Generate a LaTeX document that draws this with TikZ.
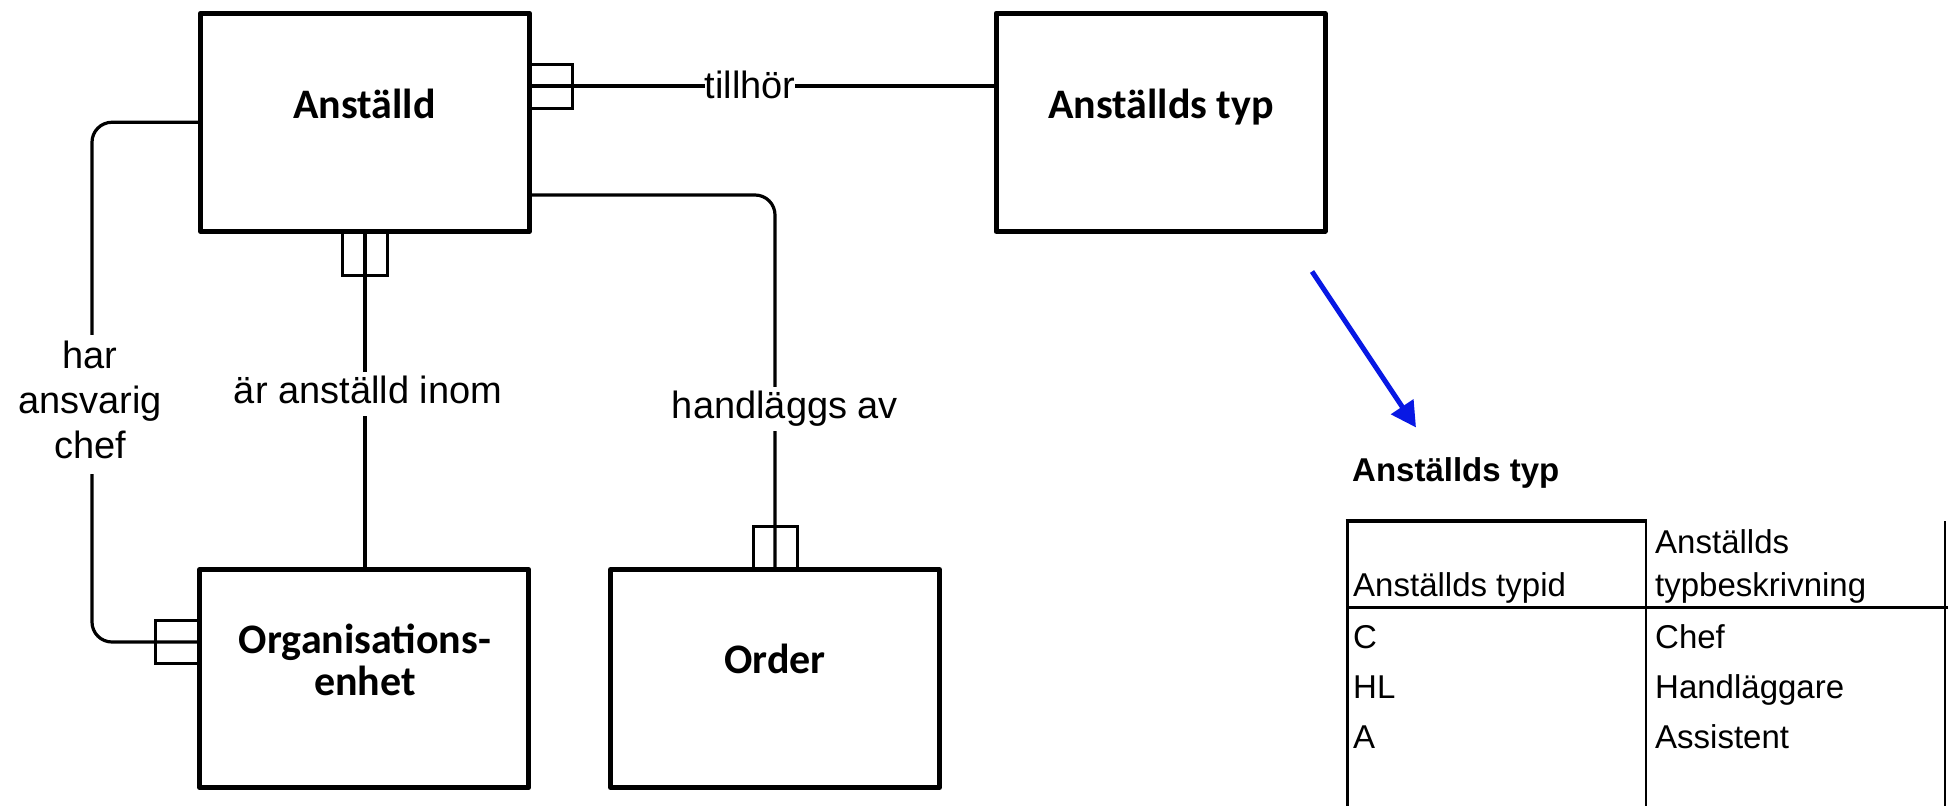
\documentclass[tikz,border=0pt]{standalone}
\usepackage{fontspec}
\setmainfont{Liberation Sans}
\newfontfamily\entfont{Carlito}
\newfontfamily\tabfont{Liberation Sans}
\usetikzlibrary{arrows.meta}
\definecolor{arrowblue}{RGB}{8,24,228}
\begin{document}
\begin{tikzpicture}[x=1pt,y=-1pt,
  entity/.style={draw, line width=5pt, line join=round, minimum width=329pt, minimum height=218pt, inner sep=0pt, outer sep=0pt},
  enttext/.style={font=\entfont\bfseries\fontsize{42}{42}\selectfont, inner sep=0pt, anchor=base},
  conn/.style={line width=3.2pt, rounded corners=20pt},
  onebox/.style={draw, line width=3pt},
  rel/.style={font=\fontsize{38}{45}\selectfont, fill=white, inner xsep=0pt, inner ysep=3pt, text height=28.5pt, text depth=9.5pt, anchor=base},
  relmulti/.style={font=\fontsize{38}{45}\selectfont, fill=white, inner xsep=0pt, inner ysep=2pt, anchor=base},
  tabtext/.style={font=\tabfont\fontsize{33}{33}\selectfont, inner sep=0pt, anchor=base west},
  tabline/.style={line width=2.6pt},
]
\useasboundingbox (0,0) rectangle (1948,806);

% entities
\node[entity] (anst) at (365,122.25) {};
\node[entity] (typ) at (1160.5,122.25) {};
\node[entity] (org) at (364.25,678.5) {};
\node[entity] (order) at (775,678.5) {};

\node[enttext] (anstT) at (364.5,118) {Anställd};
\node[enttext] (typT) at (1161,118) {Anställds typ};
\node[enttext] (orgT) at (365,653.3) {\begin{tabular}[t]{@{}c@{}}Organisations-\\enhet\end{tabular}};
\node[enttext] (orderT) at (775,673.3) {Order};

% tillhör
\draw[conn] ([yshift=36.25pt]anst.east) -- ([yshift=36.25pt]typ.west);
\draw[onebox] ([yshift=36.25pt]anst.east) ++(0,-22) rectangle ++(43,44);
\node[rel] (lblTill) at (750,98) {tillhör};

% har ansvarig chef
\draw[conn] (anst.west) -| (92,400) |- ([yshift=36.5pt]org.west);
\draw[onebox] ([yshift=36.5pt]org.west) ++(-44,-21.5) rectangle ++(44,43);
\node[relmulti] (lblChef) at (90,368) {\begin{tabular}[t]{@{}c@{}}har\\ansvarig\\chef\end{tabular}};

% är anställd inom
\draw[conn] (anst.south) -- (anst.south |- org.north);
\draw[onebox] (anst.south) ++(-22.5,0) rectangle ++(45,44);
\node[rel] (lblInom) at (368,403) {är anställd inom};

% handläggs av
\draw[conn] ([yshift=-72.75pt]anst.east) -| (order.north);
\draw[onebox] (order.north) ++(-22,-43.5) rectangle ++(44,43.5);
\node[rel] (lblHand) at (785,418) {handläggs av};

% arrow
\coordinate (arrS) at (1312,271.5);
\coordinate (arrE) at (1416,427.5);
\draw[line width=5pt, arrowblue, -{Triangle[length=25pt,width=26pt]}] (arrS) -- (arrE);

% table
\node[tabtext, font=\tabfont\bfseries\fontsize{33}{33}\selectfont] (tabTitle) at (1352,481.7) {Anställds typ};
\draw[line width=3.5pt] (1345.5,521) -- (1647.3,521);
\draw[tabline] (1347.3,519.3) -- (1347.3,806);
\draw[tabline] (1646,519.3) -- (1646,806);
\draw[tabline] (1347.3,607.7) -- (1948,607.7);
\draw[tabline] (1945,521) -- (1945,806);

\node[tabtext] (h1) at (1353,596.7) {Anställds typid};
\node[tabtext] (h2a) at (1655,553.3) {Anställds};
\node[tabtext] (h2b) at (1655,596.7) {typbeskrivning};
\node[tabtext] (r1a) at (1353,648.3) {C};
\node[tabtext] (r2a) at (1353,698.3) {HL};
\node[tabtext] (r3a) at (1353,748.3) {A};
\node[tabtext] (r1b) at (1655,648.3) {Chef};
\node[tabtext] (r2b) at (1655,698.3) {Handläggare};
\node[tabtext] (r3b) at (1655,748.3) {Assistent};
\end{tikzpicture}
\end{document}
